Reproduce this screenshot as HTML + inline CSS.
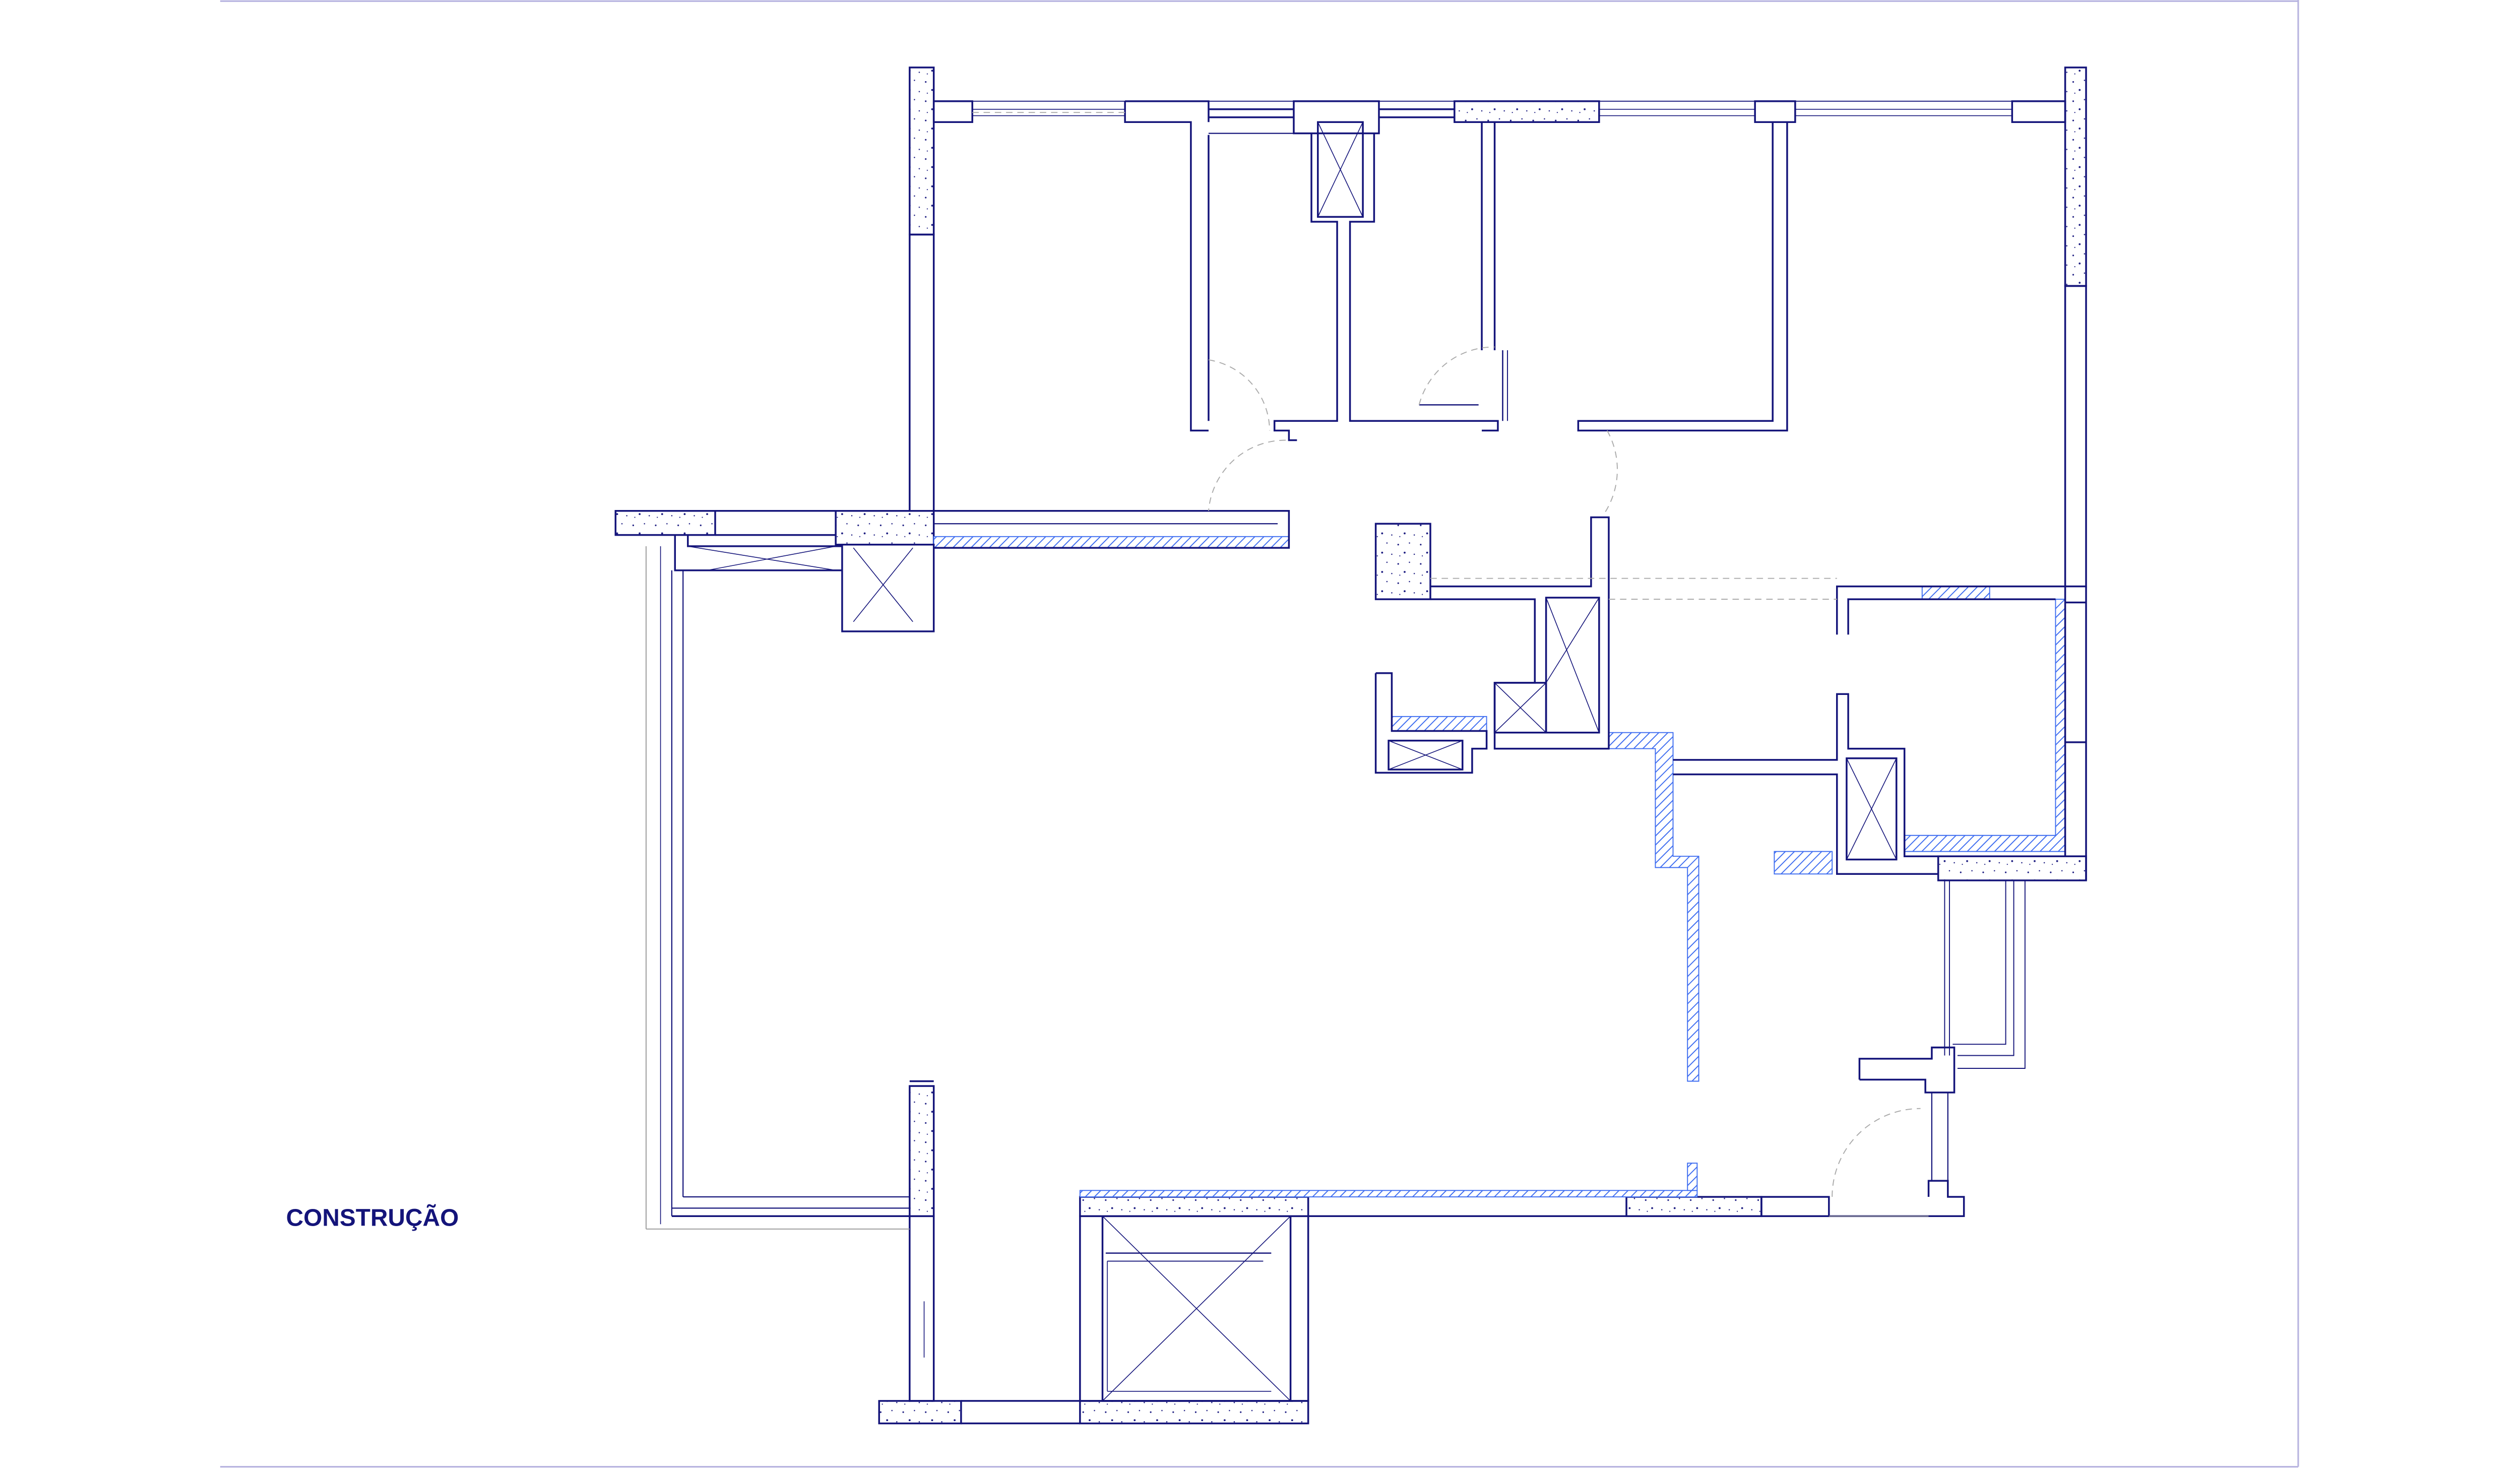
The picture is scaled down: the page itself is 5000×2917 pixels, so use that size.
<!DOCTYPE html>
<html><head><meta charset="utf-8">
<style>
html,body{margin:0;padding:0;background:#fff;}
svg{display:block;}
</style></head>
<body>
<svg width="5000" height="2917" viewBox="0 0 1568 915" preserveAspectRatio="none" xmlns="http://www.w3.org/2000/svg">
<defs>
<pattern id="h" patternUnits="userSpaceOnUse" width="4" height="4" patternTransform="rotate(45)">
<rect width="4" height="4" fill="#fff"/><line x1="0" y1="0" x2="0" y2="4" stroke="#3d6cf0" stroke-width="1.2"/>
</pattern>
<pattern id="c" patternUnits="userSpaceOnUse" width="14" height="12">
<rect width="14" height="12" fill="#fff"/>
<circle cx="2" cy="3" r="0.5" fill="#1b1b80"/><circle cx="9" cy="2" r="0.4" fill="#1b1b80"/>
<circle cx="6" cy="8" r="0.6" fill="#1b1b80"/><circle cx="12" cy="9" r="0.4" fill="#1b1b80"/>
<circle cx="3" cy="10" r="0.35" fill="#1b1b80"/>
</pattern>
</defs>
<g fill="none" stroke="#b8b4e0" stroke-width="1">
<line x1="137" y1="0.7" x2="1430" y2="0.7"/><line x1="1430" y1="0" x2="1430" y2="913"/><line x1="137" y1="913" x2="1430" y2="913"/>
</g>
<text x="178" y="763" font-family="Liberation Sans, sans-serif" font-weight="bold" font-size="15" fill="#14147a">CONSTRUÇÃO</text>

<g stroke="#14147a" stroke-width="1.1" fill="#fff">
<rect x="566" y="42" width="15" height="104" fill="url(#c)"/>
<rect x="1285" y="42" width="13" height="136" fill="url(#c)"/>
<rect x="905" y="63" width="90" height="13" fill="url(#c)"/>
<rect x="383" y="318" width="62" height="15" fill="url(#c)"/>
<rect x="520" y="318" width="61" height="21" fill="url(#c)"/>
<rect x="856" y="326" width="34" height="47" fill="url(#c)"/>
<rect x="1206" y="533" width="92" height="15" fill="url(#c)"/>
<rect x="566" y="676" width="15" height="81" fill="url(#c)"/>
<rect x="672" y="745" width="142" height="12" fill="url(#c)"/>
<rect x="1012" y="745" width="84" height="12" fill="url(#c)"/>
<rect x="547" y="872" width="51" height="14" fill="url(#c)"/>
<rect x="672" y="872" width="142" height="14" fill="url(#c)"/>
<rect x="581" y="334" width="221" height="7" fill="url(#h)" stroke="#3d6cf0" stroke-width="0.6"/>
<rect x="672" y="741" width="384" height="4" fill="url(#h)" stroke="#3d6cf0" stroke-width="0.6"/>
<rect x="1050" y="724" width="6" height="17" fill="url(#h)" stroke="#3d6cf0" stroke-width="0.6"/>
<polygon points="1001,456 1041,456 1041,533 1057,533 1057,673 1050,673 1050,540 1030,540 1030,466 1001,466" fill="url(#h)" stroke="#3d6cf0" stroke-width="0.6"/>
<rect x="866" y="446" width="59" height="9" fill="url(#h)" stroke="#3d6cf0" stroke-width="0.6"/>
<rect x="1196" y="365" width="42" height="8" fill="url(#h)" stroke="#3d6cf0" stroke-width="0.6"/>
<polygon points="1279,373 1285,373 1285,530 1185,530 1185,520 1279,520" fill="url(#h)" stroke="#3d6cf0" stroke-width="0.6"/>
<rect x="1104" y="530" width="36" height="14" fill="url(#h)" stroke="#3d6cf0" stroke-width="0.6"/>
</g>

<g stroke="#14147a" stroke-width="1.1" fill="none">
<rect x="566" y="146" width="15" height="172"/>
<rect x="581" y="63" width="24" height="13"/>
<line x1="605" y1="68" x2="700" y2="68" stroke-width="0.5"/><line x1="605" y1="72" x2="700" y2="72" stroke-width="0.5"/>
<polyline points="700,63 752,63 752,76"/><polyline points="700,63 700,76 741,76 741,268 752,268"/>
<line x1="752" y1="68" x2="805" y2="68"/><line x1="752" y1="73" x2="805" y2="73"/><line x1="752" y1="83" x2="816" y2="83" stroke-width="0.7"/>
<rect x="805" y="63" width="53" height="20"/>
<rect x="820" y="76" width="28" height="59"/>
<line x1="820" y1="76" x2="848" y2="135" stroke-width="0.5"/><line x1="848" y1="76" x2="820" y2="135" stroke-width="0.5"/>
<polyline points="816,83 816,138 832,138 832,262 793,262 793,268 802,268 802,274 807,274"/>
<polyline points="855,83 855,138 840,138 840,262 932,262 932,268 922,268"/>
<line x1="752" y1="84" x2="752" y2="262"/>
<line x1="858" y1="68" x2="905" y2="68"/><line x1="858" y1="73" x2="905" y2="73"/>
<polyline points="922,76 930,76 930,218"/><polyline points="922,76 922,218"/>
<line x1="935" y1="218" x2="935" y2="262" stroke-width="0.8"/><line x1="938" y1="218" x2="938" y2="262" stroke-width="0.6"/>
<line x1="883" y1="252" x2="920" y2="252" stroke-width="0.8"/>
<line x1="995" y1="68" x2="1092" y2="68" stroke-width="0.5"/><line x1="995" y1="72" x2="1092" y2="72" stroke-width="0.5"/>
<rect x="1092" y="63" width="25" height="13"/>
<polyline points="1103,76 1103,262 982,262 982,268 1112,268 1112,76"/>
<line x1="1117" y1="68" x2="1252" y2="68" stroke-width="0.5"/><line x1="1117" y1="72" x2="1252" y2="72" stroke-width="0.5"/>
<rect x="1252" y="63" width="33" height="13"/>
<line x1="581" y1="63" x2="1285" y2="63" stroke-width="0.6"/>
<rect x="1285" y="178" width="13" height="187"/>
<polyline points="1298,365 1298,548"/><line x1="1285" y1="375" x2="1298" y2="375"/><line x1="1285" y1="462" x2="1298" y2="462"/>
<polyline points="1143,395 1143,365 1285,365 1285,533"/>
<polyline points="1150,395 1150,373 1279,373"/>
<line x1="445" y1="318" x2="520" y2="318"/><line x1="445" y1="333" x2="520" y2="333"/>
<polyline points="581,318 802,318 802,341 581,341"/><line x1="581" y1="326" x2="795" y2="326" stroke-width="0.7"/>
<rect x="524" y="339" width="57" height="54"/>
<line x1="531" y1="341" x2="568" y2="387" stroke-width="0.5"/><line x1="568" y1="341" x2="531" y2="387" stroke-width="0.5"/>
<polyline points="420,333 420,355 524,355"/><polyline points="428,333 428,340 524,340"/>
<line x1="428" y1="340" x2="520" y2="355" stroke-width="0.5"/><line x1="520" y1="340" x2="440" y2="355" stroke-width="0.5"/>
<line x1="425" y1="355" x2="425" y2="745" stroke-width="0.7"/>
<line x1="418" y1="355" x2="418" y2="757" stroke-width="0.7"/>
<line x1="411" y1="340" x2="411" y2="762" stroke-width="0.5"/>
<line x1="425" y1="745" x2="566" y2="745" stroke-width="0.7"/><line x1="418" y1="752" x2="566" y2="752" stroke-width="0.7"/>
<line x1="418" y1="757" x2="566" y2="757"/>
<line x1="566" y1="673" x2="581" y2="673"/>
<rect x="566" y="757" width="15" height="115"/>
<line x1="575" y1="810" x2="575" y2="845" stroke-width="0.5"/>
<line x1="598" y1="872" x2="672" y2="872"/><line x1="598" y1="886" x2="672" y2="886"/>
<rect x="672" y="757" width="142" height="115"/>
<rect x="686" y="757" width="117" height="115"/>
<line x1="688" y1="780" x2="791" y2="780" stroke-width="0.8"/><line x1="689" y1="785" x2="786" y2="785" stroke-width="0.6"/>
<line x1="689" y1="785" x2="689" y2="866" stroke-width="0.5"/><line x1="689" y1="866" x2="791" y2="866" stroke-width="0.5"/>
<line x1="686" y1="757" x2="803" y2="872" stroke-width="0.5"/><line x1="803" y1="757" x2="686" y2="872" stroke-width="0.5"/>
<line x1="814" y1="757" x2="1222" y2="757"/>
<rect x="1096" y="745" width="42" height="12"/>
<polyline points="890,365 990,365 990,322 1001,322 1001,466 930,466 930,425 955,425 955,373 890,373"/>
<rect x="962" y="372" width="33" height="84"/><rect x="930" y="425" width="32" height="31"/>
<line x1="962" y1="372" x2="995" y2="456" stroke-width="0.5"/><line x1="995" y1="372" x2="962" y2="425" stroke-width="0.5"/>
<line x1="930" y1="425" x2="962" y2="456" stroke-width="0.5"/><line x1="962" y1="425" x2="930" y2="456" stroke-width="0.5"/>
<polyline points="856,419 856,481 916,481 916,466 925,466 925,455 866,455 866,419 856,419"/>
<rect x="864" y="461" width="46" height="18"/>
<line x1="864" y1="461" x2="910" y2="479" stroke-width="0.5"/><line x1="910" y1="461" x2="864" y2="479" stroke-width="0.5"/>
<polyline points="1041,473 1143,473 1143,432 1150,432 1150,466 1185,466 1185,533 1206,533"/>
<polyline points="1041,482 1143,482 1143,544 1206,544"/>
<rect x="1149" y="472" width="31" height="63"/>
<line x1="1149" y1="472" x2="1180" y2="535" stroke-width="0.5"/><line x1="1180" y1="472" x2="1149" y2="535" stroke-width="0.5"/>
<line x1="1210" y1="548" x2="1210" y2="657" stroke-width="0.6"/><line x1="1213" y1="548" x2="1213" y2="657" stroke-width="0.6"/>
<polyline points="1248,548 1248,650 1215,650" stroke-width="0.6"/><polyline points="1253,548 1253,657 1218,657" stroke-width="0.6"/><polyline points="1260,548 1260,665 1218,665" stroke-width="0.6"/>
<polyline points="1157,672 1157,659 1202,659 1202,652 1216,652 1216,680 1198,680 1198,672 1157,672"/>
<line x1="1202" y1="680" x2="1202" y2="735" stroke-width="0.7"/><line x1="1212" y1="680" x2="1212" y2="735" stroke-width="0.7"/>
<polyline points="1200,745 1200,735 1212,735 1212,745 1222,745 1222,757 1200,757"/>
</g>
<g stroke="#aaa" stroke-width="0.6" fill="none" stroke-dasharray="4,3">
<path d="M752,224 A45,45 0 0 1 790,268"/>
<path d="M800,274 A48,48 0 0 0 752,318"/>
<path d="M883,252 A48,48 0 0 1 930,216"/>
<path d="M1000,268 A50,50 0 0 1 998,320"/>
<path d="M1140,745 A55,55 0 0 1 1195,690"/>
<line x1="890" y1="360" x2="1143" y2="360"/><line x1="1001" y1="373" x2="1143" y2="373"/>
<line x1="605" y1="70" x2="700" y2="70"/>
</g>
<g stroke="#999" stroke-width="0.6" fill="none">
<line x1="402" y1="340" x2="402" y2="765"/><line x1="402" y1="765" x2="566" y2="765"/>
<line x1="1138" y1="757" x2="1200" y2="757"/>
</g>
</svg>
</body></html>
